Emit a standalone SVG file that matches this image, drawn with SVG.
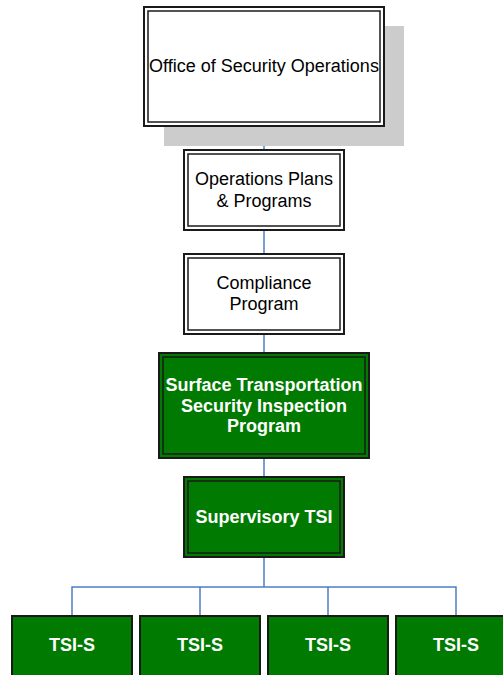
<svg xmlns="http://www.w3.org/2000/svg" width="503" height="675" viewBox="0 0 503 675">
<style>
.o{stroke:#1a1a1a;stroke-width:2}
.i{fill:none;stroke:#1a1a1a;stroke-width:1.5}
.w{fill:#fff}
.g{fill:#007a00}
.t{font-family:"Liberation Sans",Arial,sans-serif;font-size:18px;text-anchor:middle;fill:#000}
.b{font-family:"Liberation Sans",Arial,sans-serif;font-size:18px;font-weight:bold;text-anchor:middle;fill:#fff}
.c{fill:none;stroke:#4f7fc6;stroke-width:1.5}
</style>
<rect width="503" height="675" fill="#fff"/>
<g id="connectors">
<line class="c" x1="264" y1="126" x2="264" y2="150"/>
<line class="c" x1="264" y1="230" x2="264" y2="254"/>
<line class="c" x1="264" y1="334" x2="264" y2="353"/>
<line class="c" x1="264" y1="458" x2="264" y2="477"/>
<path class="c" d="M264 557V587M72 616V587H456V616M200 587V616M328 587V616"/>
</g>
<g id="office">
<rect x="164" y="26" width="240" height="120" fill="#cccccc"/>
<rect class="o w" x="144" y="7" width="240" height="119"/>
<rect class="i" x="148" y="11" width="232" height="111"/>
<text class="t" x="264" y="71.5">Office of Security Operations</text>
</g>
<g id="ops-plans">
<rect class="o w" x="184" y="150" width="160" height="80"/>
<rect class="i" x="188" y="154" width="152" height="72"/>
<text class="t" x="264" y="184.5">Operations Plans</text>
<text class="t" x="264" y="206.5">&amp; Programs</text>
</g>
<g id="compliance">
<rect class="o w" x="184" y="254" width="160" height="80"/>
<rect class="i" x="188" y="258" width="152" height="72"/>
<text class="t" x="264" y="289">Compliance</text>
<text class="t" x="264" y="310">Program</text>
</g>
<g id="stsip">
<rect class="o g" x="159" y="353" width="210" height="105"/>
<rect class="i" x="163" y="357" width="202" height="97"/>
<text class="b" x="264" y="390.5">Surface Transportation</text>
<text class="b" x="264" y="411.5">Security Inspection</text>
<text class="b" x="264" y="432">Program</text>
</g>
<g id="supervisory">
<rect class="o g" x="184" y="477" width="160" height="80"/>
<rect class="i" x="188" y="481" width="152" height="72"/>
<text class="b" x="264" y="523">Supervisory TSI</text>
</g>
<g id="tsi-s-1">
<rect class="o g" x="12" y="616" width="120" height="70"/>
<text class="b" x="72" y="651">TSI-S</text>
</g>
<g id="tsi-s-2">
<rect class="o g" x="140" y="616" width="120" height="70"/>
<text class="b" x="200" y="651">TSI-S</text>
</g>
<g id="tsi-s-3">
<rect class="o g" x="268" y="616" width="120" height="70"/>
<text class="b" x="328" y="651">TSI-S</text>
</g>
<g id="tsi-s-4">
<rect class="o g" x="396" y="616" width="120" height="70"/>
<text class="b" x="456" y="651">TSI-S</text>
</g>
</svg>
